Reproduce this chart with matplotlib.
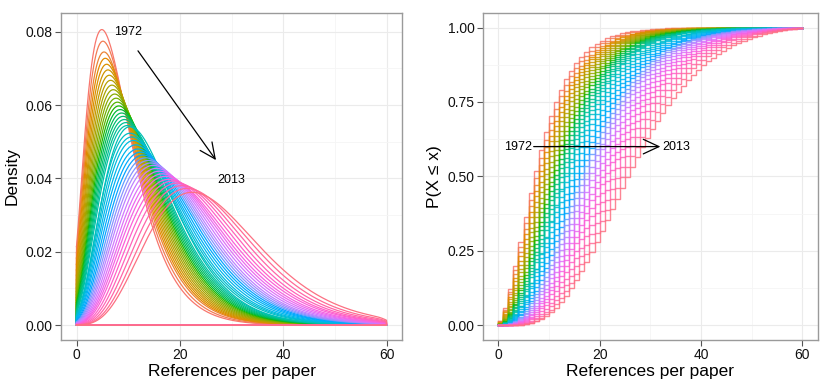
import math
import numpy as np
import matplotlib
matplotlib.use("Agg")
import matplotlib.pyplot as plt
from matplotlib.ticker import MultipleLocator

plt.rcParams['font.family'] = ['Liberation Sans', 'DejaVu Sans']

# ---------------- data ----------------
years = list(range(1972, 2014))
mean_refs = [9.0, 9.4, 9.8, 10.1, 10.4, 10.7, 11.0, 11.3, 11.6, 11.9,
             12.2, 12.5, 12.8, 13.1, 13.4, 13.7, 14.0, 14.3, 14.6, 14.9,
             15.3, 15.6, 16.0, 16.4, 16.9, 17.4, 17.9, 18.4, 18.9, 19.4,
             19.9, 20.4, 21.0, 21.6, 22.2, 22.8, 23.5, 24.2, 25.0, 25.9,
             26.9, 28.0]
shape_k = [2.3, 2.3, 2.3, 2.35, 2.4, 2.45, 2.5, 2.55, 2.6, 2.65,
           2.7, 2.75, 2.8, 2.85, 2.9, 2.95, 3.0, 3.05, 3.1, 3.15,
           3.35, 3.2, 3.25, 3.3, 3.35, 3.4, 3.5, 3.6, 3.7, 3.8,
           3.9, 4.0, 4.1, 4.2, 4.3, 4.4, 4.5, 4.7, 4.9, 5.1,
           5.3, 5.4]
max_refs = 60
x_ticks = [0, 20, 40, 60]
dens_ticks = [0.00, 0.02, 0.04, 0.06, 0.08]
cdf_ticks = [0.00, 0.25, 0.50, 0.75, 1.00]


def hcl_color(h, c=100.0, l=65.0):
    Xn, Yn, Zn = 95.047, 100.0, 108.883
    un = 4 * Xn / (Xn + 15 * Yn + 3 * Zn)
    vn = 9 * Yn / (Xn + 15 * Yn + 3 * Zn)
    hr = math.radians(h)
    u = c * math.cos(hr)
    v = c * math.sin(hr)
    Y = Yn * ((l + 16) / 116) ** 3
    up = u / (13 * l) + un
    vp = v / (13 * l) + vn
    X = 9.0 * Y * up / (4 * vp)
    Z = -X / 3 - 5 * Y + 3 * Y / vp
    X, Y, Z = X / 100, Y / 100, Z / 100
    r = 3.240479 * X - 1.537150 * Y - 0.498535 * Z
    g = -0.969256 * X + 1.875992 * Y + 0.041556 * Z
    b = 0.055648 * X - 0.204043 * Y + 1.057311 * Z
    out = []
    for ch in (r, g, b):
        ch = min(max(ch, 0.0), 1.0)
        ch = 12.92 * ch if ch <= 0.0031308 else 1.055 * ch ** (1 / 2.4) - 0.055
        out.append(min(max(ch, 0.0), 1.0))
    return tuple(out)


n = len(years)
colors = [hcl_color(15 + i * 360.0 / n) for i in range(n)]

counts = np.arange(0, max_refs + 1)
fine = np.linspace(1e-6, max_refs + 2, 12401)
grid = np.linspace(0, max_refs, 512)
bw = 1.25


def distribution(mu, k):
    th = mu / k
    logpdf = (k - 1) * np.log(fine) - fine / th - math.lgamma(k) - k * math.log(th)
    pdf = np.exp(logpdf)
    cdf = np.concatenate([[0], np.cumsum((pdf[1:] + pdf[:-1]) / 2 * np.diff(fine))])
    F = np.interp(np.concatenate([[0.0], counts + 1.0]), fine, cdf)
    pmf = np.diff(F)
    return pmf / pmf.sum()


fig = plt.figure(figsize=(8.30, 3.83), dpi=100)
ax1 = fig.add_axes([61 / 830, 43 / 383, 341 / 830, 327.3 / 383])
ax2 = fig.add_axes([483 / 830, 43 / 383, 334.5 / 830, 327.3 / 383])

for i, (yr, mu, k) in enumerate(zip(years, mean_refs, shape_k)):
    pmf = distribution(mu, k)
    dens = (pmf[None, :] * np.exp(-0.5 * ((grid[:, None] - counts[None, :]) / bw) ** 2)).sum(axis=1) / (bw * math.sqrt(2 * math.pi))
    px = np.concatenate([grid, [max_refs, 0, 0]])
    py = np.concatenate([dens, [0, 0, dens[0]]])
    ax1.plot(px, py, color=colors[i], lw=0.9, solid_joinstyle='round')
    ecdf = np.cumsum(pmf)
    ax2.step(counts, ecdf, where='post', color=colors[i], lw=1.0, alpha=0.85)

for ax in (ax1, ax2):
    ax.set_xlim(-3, 63)
    ax.set_xticks(x_ticks)
    ax.xaxis.set_minor_locator(MultipleLocator(10))
    ax.grid(which='major', color='#EBEBEB', lw=0.8)
    ax.grid(which='minor', color='#F5F5F5', lw=0.6)
    ax.set_axisbelow(True)
    for s in ax.spines.values():
        s.set_color('#9A9A9A')
        s.set_linewidth(1.0)
    ax.tick_params(which='major', length=4, width=0.8, color='#555555', labelsize=10, labelcolor='#111111', pad=2)
    ax.tick_params(which='minor', length=0)
    ax.set_xlabel('References per paper', fontsize=12.5, labelpad=1)

ax1.set_ylim(-0.00405, 0.0852)
ax1.set_yticks(dens_ticks)
ax1.set_yticklabels(['%.2f' % v for v in dens_ticks])
ax1.yaxis.set_minor_locator(MultipleLocator(0.01))
ax1.set_ylabel('Density', fontsize=12.5, labelpad=4)

ax2.set_ylim(-0.05, 1.05)
ax2.set_yticks(cdf_ticks)
ax2.set_yticklabels(['%.2f' % v for v in cdf_ticks])
ax2.yaxis.set_minor_locator(MultipleLocator(0.125))
ax2.set_ylabel('P(X ≤ x)', fontsize=12.5, labelpad=4)

arrow_kw = dict(arrowstyle='->,head_length=0.75,head_width=0.35', color='black', lw=0.9, mutation_scale=15, shrinkA=0, shrinkB=0)
ax1.text(10, 0.0799, '1972', ha='center', va='center', fontsize=9)
ax1.annotate('', xy=(27, 0.045), xytext=(11.9, 0.0748), arrowprops=arrow_kw)
ax1.text(30, 0.0397, '2013', ha='center', va='center', fontsize=9)

ax2.text(6.6, 0.6, '1972', ha='right', va='center', fontsize=9)
ax2.annotate('', xy=(32, 0.6), xytext=(7, 0.6), arrowprops=arrow_kw)
ax2.text(32.3, 0.6, '2013', ha='left', va='center', fontsize=9)

fig.savefig('out.png', dpi=100)
